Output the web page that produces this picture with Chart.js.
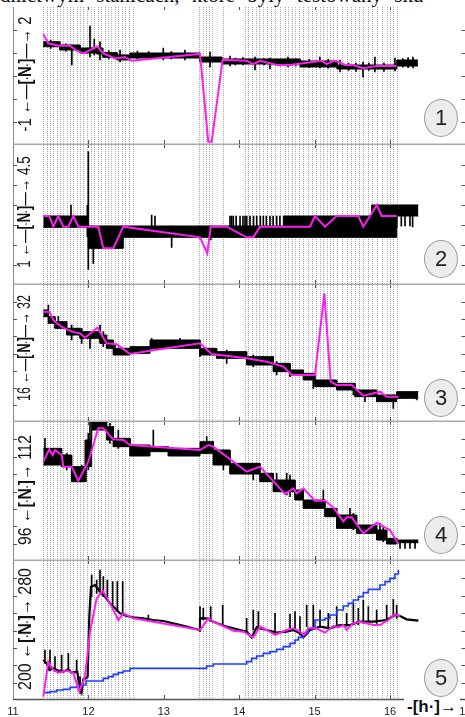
<!DOCTYPE html>
<html>
<head>
<meta charset="utf-8">
<script src="https://cdn.jsdelivr.net/npm/chart.js@4/dist/chart.umd.min.js"></script>
<style>
  html, body { margin: 0; padding: 0; width: 465px; height: 717px; overflow: hidden; background: #fff; position: relative; }
  canvas.panel { position: absolute; left: 0; }
  .toptext { position: absolute; left: 0; top: -14px; font: 21px "Liberation Serif", serif; white-space: nowrap; word-spacing: 7px; color: #111; line-height: 19px; }
  .yt { position: absolute; left: 0; top: 0; font: 19px "Liberation Sans", Arial, sans-serif; white-space: nowrap; line-height: 19px; color: #111; }
  .yt b { font-weight: bold; }
  .yt .dot { font-size: 10px; }
  .badge { position: absolute; width: 32px; height: 36px; margin-left: -17px; margin-top: -19px; border-radius: 50%;
           background: #ececec; border: 1px solid #9c9c9c; font: 22px "Liberation Sans", Arial, sans-serif; color: #222;
           display: flex; align-items: center; justify-content: center; }
  .xunit { position: absolute; left: 404px; top: 697px; font: bold 17px "Liberation Sans", Arial, sans-serif; background: #fff; padding: 0 3px; line-height: 19px; color: #111; }
</style>
</head>
<body>
<div class="toptext">dnictwym stanicach, które były testowany sku</div>
<script>
// ---- event markers (hours) shared by all panels ----
const eventTimes = [11.40, 11.445, 11.49, 11.535, 11.58, 11.62, 11.665, 11.71, 11.755, 11.80, 11.845, 11.89, 11.935,
  11.98, 12.03, 12.08, 12.125, 12.17, 12.215, 12.26, 12.305, 12.35, 12.395, 12.44, 12.49, 12.54, 12.59,
  13.471, 13.516, 13.56, 13.604, 13.643, 13.78,
  14.077, 14.121, 14.165, 14.218, 14.267, 14.32, 14.364, 14.417, 14.475, 14.541, 14.607, 14.652, 14.696, 14.74,
  14.793, 14.851, 14.917, 14.961, 15.019, 15.072, 15.116, 15.16, 15.204, 15.248, 15.302, 15.359, 15.425, 15.478,
  15.536, 15.589, 15.646, 15.713, 15.766, 15.823, 15.89, 15.956, 16.0, 16.044, 16.088];

const xTickHours = [11, 12, 13, 14, 15, 16, 17];

// ---- panel scales ----
const panelMin  = [-1, 1, 16, 96, 200];
const panelMax  = [2, 4.5, 32, 112, 280];
const panelStep = [0.5, 0.5, 2, 2, 10];
const titleLow  = ['-1', '1', '16', '96', '200'];
const titleHigh = ['2', '4.5', '32', '112', '280'];

// ---- panel 1 ----
const p1MagT = [11.402, 11.468, 11.60, 11.756, 11.845, 11.932, 12.118, 12.198, 12.353, 12.485, 12.574, 13.48, 13.59, 13.635,
  13.78, 14.10, 14.187, 14.276, 14.50, 14.674, 15.094, 15.16, 15.248, 15.314, 15.403, 15.513, 15.646, 15.824, 16.089];
const p1MagV = [1.41, 1.21, 1.16, 1.16, 1.05, 0.99, 1.14, 0.99, 0.88, 0.91, 0.83, 0.98, -0.93, -0.93,
  0.85, 0.83, 0.76, 0.83, 0.74, 0.74, 0.83, 0.76, 0.83, 0.81, 0.74, 0.74, 0.67, 0.72, 0.72];
const p1BandT  = [11.40, 11.62, 11.89, 12.11, 12.19, 12.38, 12.55, 13.48, 13.77, 14.81, 15.30, 16.09, 16.37];
const p1BandHi = [1.245, 1.174, 1.109, 1.109, 1.007, 0.957, 1.0, 0.913, 0.870, 0.826, 0.739, 0.848, 0.848];
const p1BandLo = [1.137, 1.065, 1.0, 0.978, 0.907, 0.848, 0.891, 0.804, 0.761, 0.696, 0.652, 0.717, 0.717];
const p1SpikeT  = [11.50, 11.70, 11.78, 12.021, 12.078, 12.154, 12.27, 12.42, 12.65, 12.80, 12.993, 13.10, 13.28, 13.613, 13.878,
  13.95, 14.05, 14.21, 14.33, 14.408, 14.55, 14.647, 14.75, 14.93, 15.07, 15.18, 15.337, 15.45, 15.55, 15.642, 15.72, 15.80,
  15.92, 16.066, 16.17, 16.24, 16.305];
const p1SpikeHi = [1.28, 1.20, 1.174, 1.587, 1.304, 1.245, 1.05, 1.065, 1.04, 1.03, 1.109, 1.03, 1.065, 1.022, 0.935,
  0.89, 0.90, 0.913, 0.88, 0.891, 0.87, 0.913, 0.87, 0.86, 0.913, 0.86, 0.848, 0.78, 0.78, 0.804, 0.78, 0.913,
  0.78, 0.891, 0.88, 0.90, 0.913];
const p1SpikeLo = [1.10, 1.04, 0.739, 0.913, 0.957, 0.848, 0.87, 0.804, 0.87, 0.87, 0.848, 0.87, 0.848, 0.696, 0.717,
  0.74, 0.74, 0.63, 0.74, 0.652, 0.72, 0.696, 0.72, 0.68, 0.674, 0.67, 0.587, 0.62, 0.60, 0.478, 0.62, 0.587,
  0.60, 0.609, 0.69, 0.68, 0.674];

// ---- panel 2 ----
const p2MagT = [11.402, 11.482, 11.535, 11.601, 11.667, 11.733, 11.80, 11.866, 12.131, 12.198, 12.33, 12.463, 13.48, 13.577,
  13.622, 13.834, 14.099, 14.187, 14.276, 14.939, 15.005, 15.138, 15.293, 15.58, 15.646, 15.824, 15.89, 16.089];
const p2MagV = [2.725, 2.725, 2.458, 2.725, 2.458, 2.458, 2.725, 2.458, 2.458, 1.917, 1.917, 2.458, 2.192, 1.792,
  2.458, 2.458, 2.192, 2.192, 2.458, 2.458, 2.725, 2.458, 2.725, 2.725, 2.458, 3.0, 2.725, 2.725];
const p2BandT  = [11.402, 12.0, 12.463, 14.585, 15.757, 16.089, 16.376];
const p2BandHi = [2.725, 2.475, 2.475, 2.725, 3.0, 3.0, 3.0];
const p2BandLo = [2.442, 1.917, 2.192, 2.192, 2.192, 2.725, 2.725];
const p2SpikeT  = [11.769, 11.986, 11.999, 12.065, 12.839, 12.883, 13.104, 13.48, 13.622,
  13.878, 13.90, 13.922, 13.96, 14.011, 14.05, 14.077, 14.10, 14.143, 14.19, 14.232, 14.28, 14.32, 14.36, 14.408, 14.45, 14.497, 14.54,
  16.089, 16.15, 16.199, 16.265, 16.30];
const p2SpikeHi = [3.0, 3.0, 4.333, 2.208, 2.75, 2.725, 2.475, 2.475, 2.475,
  2.725, 2.725, 2.725, 2.725, 2.725, 2.725, 2.725, 2.725, 2.725, 2.725, 2.725, 2.725, 2.725, 2.725, 2.725, 2.725, 2.725, 2.725,
  3.0, 3.0, 3.0, 3.0, 3.0];
const p2SpikeLo = [2.725, 2.208, 1.392, 1.542, 2.192, 2.192, 1.942, 2.167, 2.125,
  2.192, 2.192, 2.192, 2.192, 2.192, 2.192, 2.192, 2.192, 2.192, 2.192, 2.192, 2.192, 2.192, 2.192, 2.192, 2.192, 2.192, 2.192,
  2.442, 2.47, 2.475, 2.475, 2.45];

// ---- panel 3 ----
const p3MagT = [11.402, 11.482, 11.535, 11.579, 11.667, 11.778, 11.889, 11.955, 12.119, 12.242, 12.375, 12.552, 12.817, 13.48,
  13.635, 14.099, 14.364, 14.585, 14.696, 15.005, 15.129, 15.213, 15.293, 15.492, 15.646, 15.867, 15.956, 16.111];
const p3MagV = [28.886, 28.886, 27.913, 27.524, 27.018, 26.55, 26.356, 25.85, 27.018, 25.188, 25.071, 23.942, 24.332, 25.188,
  23.942, 23.436, 23.047, 22.463, 21.49, 21.49, 31.027, 20.712, 20.322, 20.322, 19.077, 19.544, 18.96, 18.96];
const p3BandT  = [11.402, 11.469, 11.557, 11.712, 11.889, 12.154, 12.242, 12.331, 12.552, 12.817, 13.480, 13.701, 14.099,
  14.453, 14.674, 14.851, 15.005, 15.293, 15.536, 15.823, 16.088, 16.376];
const p3BandHi = [29.081, 28.302, 27.718, 26.940, 26.550, 26.161, 25.577, 24.604, 24.799, 25.577, 24.604, 24.215, 23.631,
  22.852, 22.074, 21.685, 20.906, 20.517, 19.738, 19.154, 19.544, 19.544];
const p3BandLo = [28.302, 27.524, 26.940, 26.161, 25.772, 25.188, 24.604, 23.826, 24.020, 24.604, 23.826, 23.436, 22.658,
  21.879, 21.490, 20.906, 20.128, 19.738, 18.960, 18.376, 18.765, 18.765];
const p3SpikeT  = [11.469, 11.601, 11.778, 11.911, 12.021, 12.154, 12.198, 12.353, 12.839, 13.215, 13.480, 13.834, 14.187,
  14.497, 14.674, 14.983, 15.514, 15.668, 16.044, 16.354];
const p3SpikeHi = [29.664, 28.302, 27.329, 26.940, 26.356, 27.329, 26.550, 24.993, 25.772, 25.772, 25.188, 24.410, 23.826,
  23.047, 22.658, 21.490, 20.322, 19.544, 19.154, 19.544];
const p3SpikeLo = [28.691, 26.940, 25.577, 25.188, 24.604, 25.577, 24.799, 23.826, 24.410, 24.604, 23.631, 22.852, 22.463,
  21.490, 21.296, 19.933, 19.154, 18.376, 17.598, 18.571];

// ---- panel 4 ----
const p4MagT = [11.402, 11.482, 11.526, 11.557, 11.645, 11.667, 11.778, 11.866, 11.999, 12.131, 12.198, 12.33, 12.463, 12.552,
  13.48, 13.591, 13.657, 14.099, 14.276, 14.607, 14.718, 14.762, 14.85, 15.005, 15.138, 15.248, 15.381, 15.425, 15.492,
  15.646, 15.824, 15.956, 16.0, 16.111];
const p4MagV = [107.434, 108.853, 108.201, 108.777, 108.201, 106.858, 106.858, 105.246, 107.434, 111.271, 111.271, 110.005,
  109.928, 109.352, 108.777, 109.352, 109.16, 106.282, 106.858, 103.711, 104.364, 103.788, 104.364, 102.944, 102.944,
  102.177, 100.526, 101.025, 101.025, 99.183, 100.411, 99.759, 99.567, 97.956];
const p4BandT  = [11.402, 11.645, 11.778, 11.955, 12.043, 12.242, 12.331, 12.552, 12.817, 13.060, 13.480, 13.657, 13.878,
  14.276, 14.453, 14.740, 14.851, 15.138, 15.293, 15.558, 15.823, 15.956, 16.088, 16.376];
const p4BandHi = [108.969, 108.201, 106.858, 109.928, 112.23, 111.463, 110.120, 109.352, 109.160, 108.969, 109.736, 108.777,
  107.242, 106.091, 105.323, 104.172, 103.021, 102.061, 101.294, 100.143, 99.567, 98.608, 98.416, 98.416];
const p4BandLo = [107.050, 106.858, 105.131, 106.858, 111.079, 109.928, 109.160, 108.086, 108.585, 108.086, 108.393, 107.050,
  106.014, 105.131, 103.980, 103.021, 102.061, 101.102, 99.759, 99.183, 98.416, 97.956, 98.109, 98.109];
const p4SpikeT  = [11.424, 11.712, 11.911, 11.968, 11.999, 12.021, 12.286, 12.397, 12.861, 13.569, 13.790, 14.187, 14.497,
  14.630, 14.674, 15.116, 15.469, 15.514, 15.867, 15.912, 16.133, 16.199, 16.265, 16.332];
const p4SpikeHi = [110.120, 108.393, 107.050, 108.393, 110.695, 112.23, 111.847, 111.079, 111.079, 110.312, 108.777, 106.474,
  106.091, 106.091, 105.899, 104.172, 102.061, 101.486, 100.334, 99.951, 98.339, 98.339, 98.339, 98.339];
const p4SpikeLo = [107.050, 106.474, 105.131, 105.131, 106.474, 108.393, 109.544, 108.969, 109.160, 108.393, 106.474, 105.323,
  103.980, 103.596, 103.404, 102.253, 100.718, 99.567, 98.416, 98.224, 97.456, 97.456, 97.456, 97.456];

// ---- panel 5 ----
const p5MagT = [11.402, 11.468, 11.526, 11.601, 11.711, 11.80, 11.879, 11.955, 12.021, 12.11, 12.189, 12.286, 12.397, 12.463,
  12.596, 13.48, 13.591, 13.657, 13.922, 14.055, 14.187, 14.276, 14.364, 14.475, 14.629, 14.718, 14.806, 14.859, 14.916,
  15.027, 15.138, 15.248, 15.314, 15.381, 15.425, 15.513, 15.602, 15.779, 15.867, 15.978, 16.066, 16.133];
const p5MagV = [201.92, 222.06, 217.65, 215.73, 216.88, 215.73, 204.80, 213.43, 239.33, 258.51, 262.93, 255.64, 246.04, 249.88,
  247.0, 240.29, 247.0, 245.08, 239.9, 239.33, 236.07, 242.21, 240.29, 237.41, 240.29, 241.25, 239.33, 237.41, 241.25,
  241.25, 238.75, 242.59, 241.82, 243.17, 240.29, 244.12, 245.08, 243.17, 243.17, 246.04, 249.3, 248.35];
const p5TraceT = [11.402, 11.447, 11.482, 11.535, 11.601, 11.668, 11.734, 11.778, 11.853, 11.871, 11.911, 11.933, 11.968,
  11.990, 12.012, 12.034, 12.088, 12.154, 12.220, 12.286, 12.353, 12.419, 12.508, 12.596, 12.729, 12.861, 12.994, 13.126,
  13.303, 13.471, 13.480, 13.568, 13.657, 13.834, 14.011, 14.099, 14.165, 14.232, 14.364, 14.497, 14.629, 14.718, 14.806,
  14.851, 14.939, 15.072, 15.204, 15.337, 15.469, 15.602, 15.779, 15.956, 16.066, 16.133, 16.221, 16.376];
const p5TraceV = [223.02, 221.10, 217.27, 218.23, 216.88, 216.31, 217.65, 215.73, 216.31, 210.55, 204.80, 211.89, 212.47,
  213.43, 247.96, 265.23, 266.19, 262.35, 259.47, 255.64, 252.76, 249.88, 248.35, 247.58, 247.00, 246.04, 245.47, 244.12,
  242.21, 240.29, 247.00, 247.00, 245.08, 242.21, 240.29, 239.33, 236.07, 241.82, 240.29, 238.8, 239.33, 240.29, 238.4,
  236.07, 240.29, 242.21, 241.25, 243.17, 243.17, 245.08, 245.08, 246.04, 248.92, 248.35, 246.43, 245.66];
const p5SpikeT  = [11.424, 11.491, 11.557, 11.645, 11.734, 11.844, 11.889, 12.043, 12.110, 12.154, 12.198, 12.251, 12.322,
  12.384, 12.455, 12.795, 13.480, 13.524, 13.622, 13.781, 14.099, 14.187, 14.254, 14.475, 14.674, 14.740, 14.806, 14.895,
  14.983, 15.072, 15.182, 15.293, 15.425, 15.514, 15.580, 15.646, 15.713, 15.823, 15.956, 16.044, 16.088];
const p5SpikeHi = [228.78, 228.78, 224.94, 225.90, 226.86, 223.02, 213.43, 271.94, 269.06, 274.82, 270.98, 269.06, 268.11,
  268.11, 268.11, 248.92, 253.72, 252.76, 253.72, 254.68, 247.00, 251.80, 250.84, 249.88, 249.50, 250.84, 247.96, 254.68,
  254.68, 251.80, 249.88, 253.72, 249.88, 255.64, 252.76, 257.55, 253.72, 251.80, 254.68, 257.94, 254.68];
const p5SpikeLo = [221.10, 217.27, 216.31, 216.31, 217.27, 215.35, 203.84, 259.47, 261.39, 263.31, 259.47, 257.55, 254.68,
  250.84, 248.92, 245.08, 239.33, 246.04, 245.08, 243.17, 238.37, 240.29, 240.29, 238.37, 240.29, 239.33, 237.41, 242.21,
  241.25, 242.21, 241.25, 242.21, 242.21, 243.17, 243.17, 244.12, 245.08, 244.12, 245.08, 247.96, 247.00];
const p5BlueT = [11.402, 11.49, 11.579, 11.667, 11.756, 11.844, 11.91, 11.968, 12.198, 12.264, 12.33, 12.397, 12.463, 12.552,
  13.568, 13.657, 14.099, 14.165, 14.232, 14.32, 14.408, 14.497, 14.585, 14.674, 14.74, 14.784, 14.85, 14.916, 15.005,
  15.138, 15.204, 15.293, 15.381, 15.447, 15.513, 15.58, 15.646, 15.712, 15.867, 15.934, 16.0, 16.066, 16.111];
const p5BlueV = [204.22, 204.80, 205.76, 206.14, 207.29, 207.67, 208.63, 210.94, 212.47, 213.43, 214.77, 215.73, 216.69,
  218.23, 219.57, 220.72, 222.06, 223.98, 225.32, 226.86, 227.82, 229.16, 230.70, 232.61, 234.53, 236.07, 238.37, 241.25,
  246.04, 247.0, 248.92, 251.80, 254.10, 255.64, 257.55, 259.47, 261.77, 263.69, 266.19, 268.11, 270.02, 272.52, 274.82];

// ---- pixel layout of the five stacked panels ----
const panelTop    = [7, 145, 285, 422, 561];
const panelHeight = [138, 140, 137, 139, 139];
const badgeY      = [118, 259, 398, 535, 678];
const titleCentreY = [74, 212, 348, 490, 629];
const titleLength  = [115, 112, 106, 110, 122];
const CANVAS_W = 480, AREA_LEFT = 13, AREA_RIGHT = 465.4, AXIS_BAND = 23;

const pts  = (ts, vs) => ts.map((t, i) => ({ x: t, y: vs[i] }));
const bars = (ts, hi, lo) => ts.map((t, i) => ({ x: t, y: [lo[i], hi[i]] }));
// level held from each time to the next one (the last entry closes the run)
function stepPts(ts, vs) {
  const out = [];
  for (let i = 0; i < ts.length - 1; i++) out.push({ x: ts[i], y: vs[i] }, { x: ts[i + 1], y: vs[i] });
  return out;
}

const MAGENTA = '#ff1cf4', BLUE = '#1d3cff';

function magentaSet(ts, vs) {
  return { type: 'line', data: pts(ts, vs), borderColor: MAGENTA, borderWidth: 2, pointRadius: 0, fill: false, tension: 0, order: 0 };
}
function bandSets(ts, hi, lo) {
  return [
    { type: 'line', data: stepPts(ts, hi), borderColor: '#000', borderWidth: 1, backgroundColor: '#000',
      pointRadius: 0, fill: '+1', tension: 0, order: 3 },
    { type: 'line', data: stepPts(ts, lo), borderColor: '#000', borderWidth: 1, pointRadius: 0, fill: false, tension: 0, order: 3 }
  ];
}
function spikeSet(ts, hi, lo) {
  return { type: 'bar', data: bars(ts, hi, lo), backgroundColor: '#000', borderWidth: 0, barThickness: 1, grouped: false, order: 2 };
}

// frame: event lines, panel borders and inner tick marks
const frame = {
  id: 'frame',
  beforeDatasetsDraw(chart) {
    const { ctx, chartArea: a, scales: { x } } = chart;
    ctx.save();
    ctx.strokeStyle = '#a8a8a8';
    ctx.lineWidth = 1;
    ctx.setLineDash([1, 1]);
    eventTimes.forEach(t => {
      const px = Math.round(x.getPixelForValue(t)) + 0.5;
      ctx.beginPath(); ctx.moveTo(px, a.top); ctx.lineTo(px, a.bottom); ctx.stroke();
    });
    ctx.restore();
  },
  afterDraw(chart, args, opts) {
    const { ctx, chartArea: a, scales: { x, y } } = chart;
    ctx.save();
    ctx.strokeStyle = '#8c8c8c'; ctx.lineWidth = 1;
    ctx.beginPath(); ctx.moveTo(a.left + 0.5, a.top); ctx.lineTo(a.left + 0.5, a.bottom); ctx.stroke();
    if (opts.last) { ctx.strokeStyle = '#555'; ctx.lineWidth = 1.5; }
    else { ctx.strokeStyle = '#a9a9a9'; ctx.lineWidth = 2; }
    ctx.beginPath(); ctx.moveTo(a.left, a.bottom - 0.5); ctx.lineTo(a.right + 20, a.bottom - 0.5); ctx.stroke();
    ctx.strokeStyle = '#555'; ctx.lineWidth = 1;
    opts.yTicks.forEach(v => {
      const py = Math.round(y.getPixelForValue(v)) + 0.5;
      ctx.beginPath(); ctx.moveTo(a.left, py); ctx.lineTo(a.left + 4, py); ctx.stroke();
      ctx.beginPath(); ctx.moveTo(a.right - 4, py); ctx.lineTo(a.right, py); ctx.stroke();
    });
    xTickHours.slice(1, -1).forEach(h => {
      const px = Math.round(x.getPixelForValue(h)) + 0.5;
      ctx.beginPath(); ctx.moveTo(px, a.bottom - 1); ctx.lineTo(px, a.bottom - 5); ctx.stroke();
      ctx.beginPath(); ctx.moveTo(px, a.top); ctx.lineTo(px, a.top + 3); ctx.stroke();
    });
    ctx.restore();
  }
};

function makePanel(i, datasets) {
  const last = i === 4;
  const cv = document.createElement('canvas');
  cv.className = 'panel';
  const h = panelHeight[i] + (last ? AXIS_BAND : 0);
  cv.width = CANVAS_W; cv.height = h;
  cv.style.width = CANVAS_W + 'px'; cv.style.height = h + 'px';
  cv.style.top = panelTop[i] + 'px';
  document.body.appendChild(cv);

  const yTicks = [];
  for (let v = panelMin[i] + panelStep[i]; v < panelMax[i] - 1e-9; v += panelStep[i]) yTicks.push(v);

  new Chart(cv, {
    type: 'line',
    data: { datasets },
    options: {
      responsive: false, animation: false, devicePixelRatio: 1, events: [],
      layout: { padding: { left: AREA_LEFT, right: CANVAS_W - AREA_RIGHT, top: 0, bottom: 0 } },
      plugins: { legend: { display: false }, tooltip: { enabled: false }, frame: { last, yTicks } },
      scales: {
        x: {
          type: 'linear', min: 11, max: 17, offset: false, display: last,
          grid: { display: false, drawTicks: false, offset: false }, border: { display: false },
          afterBuildTicks: s => { s.ticks = xTickHours.map(v => ({ value: v })); },
          ticks: { padding: 4.9, color: '#222', font: { size: 11, family: 'Liberation Sans' }, maxRotation: 0, autoSkip: false }
        },
        y: { type: 'linear', min: panelMin[i], max: panelMax[i], display: false }
      }
    },
    plugins: [frame]
  });
}

makePanel(0, [magentaSet(p1MagT, p1MagV), spikeSet(p1SpikeT, p1SpikeHi, p1SpikeLo), ...bandSets(p1BandT, p1BandHi, p1BandLo)]);
makePanel(1, [magentaSet(p2MagT, p2MagV), spikeSet(p2SpikeT, p2SpikeHi, p2SpikeLo), ...bandSets(p2BandT, p2BandHi, p2BandLo)]);
makePanel(2, [magentaSet(p3MagT, p3MagV), spikeSet(p3SpikeT, p3SpikeHi, p3SpikeLo), ...bandSets(p3BandT, p3BandHi, p3BandLo)]);
makePanel(3, [magentaSet(p4MagT, p4MagV), spikeSet(p4SpikeT, p4SpikeHi, p4SpikeLo), ...bandSets(p4BandT, p4BandHi, p4BandLo)]);
makePanel(4, [
  magentaSet(p5MagT, p5MagV),
  { type: 'line', data: stepPts(p5BlueT.concat([p5BlueT[p5BlueT.length - 1]]), p5BlueV.concat([p5BlueV[p5BlueV.length - 1]])),
    borderColor: BLUE, borderWidth: 1.6, pointRadius: 0, fill: false, tension: 0, order: 1 },
  spikeSet(p5SpikeT, p5SpikeHi, p5SpikeLo),
  { type: 'line', data: pts(p5TraceT, p5TraceV), borderColor: '#000', borderWidth: 2.2, pointRadius: 0, fill: false, tension: 0, order: 3 }
]);

// rotated axis titles and panel numbers
const titles = [];
for (let i = 0; i < 5; i++) {
  const t = document.createElement('div');
  t.className = 'yt';
  const longArrows = i < 3;
  t.innerHTML = titleLow[i] + (longArrows ? ' ←—' : ' ←') +
    '<b>[<span class="dot">·</span>N<span class="dot">·</span>]</b>' +
    (longArrows ? '—→ ' : '→ ') + titleHigh[i];
  document.body.appendChild(t);
  titles.push(t);

  const b = document.createElement('div');
  b.className = 'badge';
  b.textContent = String(i + 1);
  b.style.left = '441px';
  b.style.top = badgeY[i] + 'px';
  document.body.appendChild(b);
}
// place each title: centre it on its panel, turn it upright and fit its length
function placeTitles() {
  titles.forEach((t, i) => {
    const w = t.offsetWidth, h = t.offsetHeight;
    const k = titleLength[i] / w;
    t.style.left = (25 - w / 2) + 'px';
    t.style.top = (titleCentreY[i] - h / 2) + 'px';
    t.style.transform = 'rotate(-90deg) scaleX(' + k.toFixed(3) + ')';
  });
}
placeTitles();
if (document.fonts && document.fonts.ready) document.fonts.ready.then(placeTitles);

const unit = document.createElement('div');
unit.className = 'xunit';
unit.textContent = '-[h·]→';
document.body.appendChild(unit);
</script>
</body>
</html>
